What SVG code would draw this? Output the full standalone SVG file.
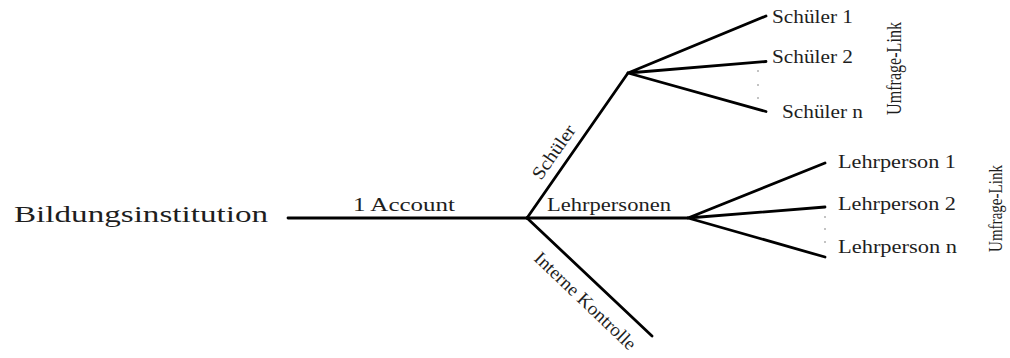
<svg xmlns="http://www.w3.org/2000/svg" width="1010" height="358" viewBox="0 0 1010 358">
<style>
.t{font-family:"Liberation Serif","Times New Roman",serif;fill:#1e1e1e;}
.ln{stroke:#000;stroke-width:2.8;fill:none;stroke-linecap:round;stroke-linejoin:round;}
.dot{fill:#777;}
</style>
<rect width="1010" height="358" fill="#fff"/>
<g id="connectors">
<path class="ln" d="M288,218 L527,218"/>
<path class="ln" d="M527,218 L628,73"/>
<path class="ln" d="M527,218 L688,218"/>
<path class="ln" d="M527,218 L652,336"/>
<path class="ln" d="M628,73 L766,16 M628,73 L766,61.5 M628,73 L766,111.5"/>
<path class="ln" d="M688,218 L825,163 M688,218 L825,207 M688,218 L825,257"/>
<text class="t" x="353" y="211" font-size="19.5" textLength="102" lengthAdjust="spacingAndGlyphs">1 Account</text>
<text class="t" x="547" y="211" font-size="19" textLength="124" lengthAdjust="spacingAndGlyphs">Lehrpersonen</text>
<text class="t" transform="translate(541,181) rotate(-55.1)" font-size="18.5" textLength="62" lengthAdjust="spacingAndGlyphs">Schüler</text>
<text class="t" transform="translate(533,259.5) rotate(43.6)" font-size="18.5" textLength="133" lengthAdjust="spacingAndGlyphs">Interne Kontrolle</text>
</g>
<g id="root">
<text class="t" x="14" y="222" font-size="24" textLength="254" lengthAdjust="spacingAndGlyphs">Bildungsinstitution</text>
</g>
<g id="schueler">
<text class="t" x="772" y="23" font-size="18.5" textLength="81" lengthAdjust="spacingAndGlyphs">Schüler 1</text>
<text class="t" x="772" y="63" font-size="18.5" textLength="81" lengthAdjust="spacingAndGlyphs">Schüler 2</text>
<circle class="dot" cx="758" cy="71" r="0.8"/>
<circle class="dot" cx="758" cy="85" r="0.8"/>
<circle class="dot" cx="758" cy="98" r="0.8"/>
<text class="t" x="782" y="118" font-size="18.5" textLength="81" lengthAdjust="spacingAndGlyphs">Schüler n</text>
<text class="t" transform="translate(900.5,115) rotate(-90)" font-size="20.5" textLength="93" lengthAdjust="spacingAndGlyphs">Umfrage-Link</text>
</g>
<g id="lehrpersonen">
<text class="t" x="838" y="168" font-size="18.5" textLength="118" lengthAdjust="spacingAndGlyphs">Lehrperson 1</text>
<text class="t" x="838" y="210" font-size="18.5" textLength="118" lengthAdjust="spacingAndGlyphs">Lehrperson 2</text>
<circle class="dot" cx="825" cy="217" r="0.8"/>
<circle class="dot" cx="825" cy="229" r="0.8"/>
<circle class="dot" cx="825" cy="242" r="0.8"/>
<text class="t" x="838" y="253" font-size="18.5" textLength="119" lengthAdjust="spacingAndGlyphs">Lehrperson n</text>
<text class="t" transform="translate(1001.5,252) rotate(-90)" font-size="19.5" textLength="87" lengthAdjust="spacingAndGlyphs">Umfrage-Link</text>
</g>
</svg>
